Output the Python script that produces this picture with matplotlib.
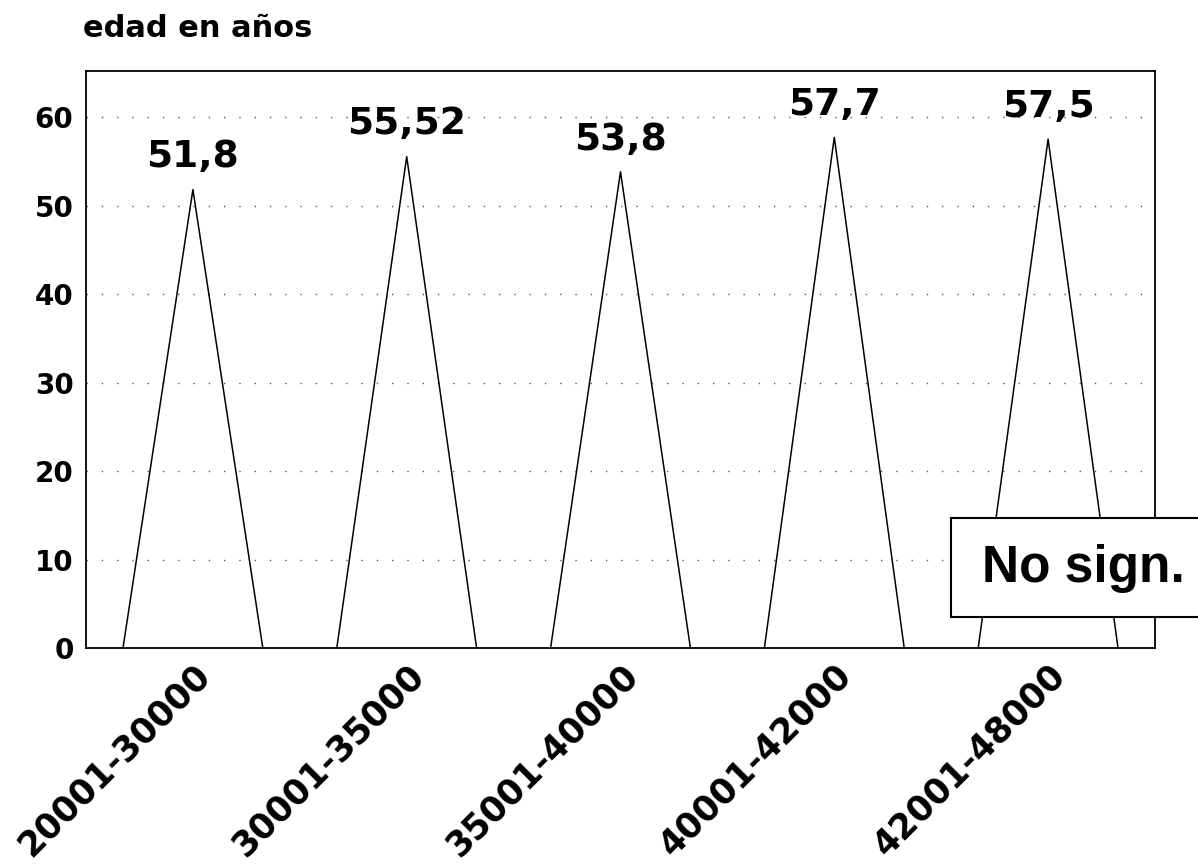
import matplotlib
matplotlib.use("Agg")
import matplotlib.pyplot as plt
from matplotlib.patches import Rectangle

plt.rcParams['font.family'] = ['DejaVu Sans']
plt.rcParams['font.weight'] = 'bold'

categories = ["20001-30000", "30001-35000", "35001-40000", "40001-42000", "42001-48000"]
ages = [51.8, 55.52, 53.8, 57.7, 57.5]
labels = ["51,8", "55,52", "53,8", "57,7", "57,5"]
y_ticks = [0, 10, 20, 30, 40, 50, 60]

W, H = 1198, 868
fig = plt.figure(figsize=(W / 100, H / 100), dpi=100)
ax = fig.add_axes([86 / W, 1 - 648 / H, (1155 - 86) / W, (648 - 71) / H])

# one triangle per income bracket, apex at the mean age
half = 0.327
for i, v in enumerate(ages):
    ax.plot([i - half, i, i + half], [0, v, 0], color='black', lw=1.1, zorder=3)
    ax.annotate(labels[i], (i, v), xytext=(0, 16), textcoords='offset points',
                ha='center', va='baseline', fontsize=27, fontweight='bold')

ax.set_xlim(-0.5, len(categories) - 0.5)
ax.set_ylim(0, 65.2)
ax.set_yticks(y_ticks)
ax.set_yticklabels([str(t) for t in y_ticks], fontsize=20, fontweight='bold')
ax.set_xticks(range(len(categories)))
ax.set_xticklabels(categories, fontsize=25, fontweight='bold', rotation=45,
                   ha='right', va='top', rotation_mode='anchor')
ax.tick_params(axis='y', length=0, pad=9)
ax.tick_params(axis='x', length=0, pad=7)

ax.yaxis.grid(True, color='#555555', linestyle=(0, (1, 10)), lw=1)
ax.set_axisbelow(True)
for s in ax.spines.values():
    s.set_color('black')
    s.set_linewidth(1.3)

fig.text(83 / W, 1 - 37 / H, "edad en años", fontsize=22, fontweight='bold',
         ha='left', va='baseline')

# "not significant" note box, running off the right edge
fig.add_artist(Rectangle((951 / W, 1 - 617 / H), (1215 - 951) / W, (617 - 518) / H,
                         transform=fig.transFigure, facecolor='white',
                         edgecolor='black', lw=1.5, zorder=10, clip_on=False))
fig.text(982 / W, 1 - 582 / H, "No sign.", fontsize=37, fontweight='bold',
         family='Liberation Sans', ha='left', va='baseline', zorder=11)

fig.savefig("out.png", dpi=100)
